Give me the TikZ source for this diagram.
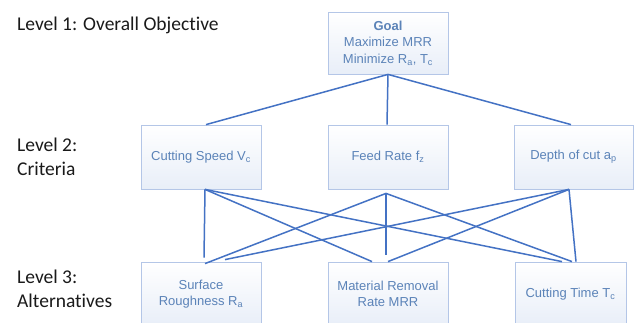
\documentclass[tikz,border=0pt]{standalone}
\usepackage{fontspec}
\setmainfont{Liberation Sans}
\newfontfamily\lblfont[Ligatures=NoCommon]{Carlito}
\definecolor{linkblue}{HTML}{4472C4}
\definecolor{boxedge}{HTML}{B4C6E7}
\definecolor{boxtext}{HTML}{5B83B8}
\definecolor{boxfill}{HTML}{E8EEF8}
\definecolor{lbltext}{HTML}{1A1A1A}
\tikzset{
  hbox/.style={draw=boxedge, line width=0.8pt, top color=white, bottom color=boxfill,
    text=boxtext, font=\fontsize{13}{16.5}\selectfont, align=center,
    minimum width=120pt, minimum height=64pt, inner sep=2pt},
  lvl/.style={anchor=west, text=lbltext, font=\lblfont\fontsize{19.5}{24}\selectfont, align=left, inner sep=0pt},
  link/.style={draw=linkblue, line width=1.5pt}
}
\begin{document}
\begin{tikzpicture}[x=1pt,y=-1pt]
\useasboundingbox (0,0) rectangle (638,323);
\fill[white] (0,0) rectangle (638,323);
\clip (0,0) rectangle (638,323);
% level labels
\node[lvl] (l1) at (17,25) {Level 1: Overall Objective};
\node[lvl] (l2) at (17,157) {Level 2:\\Criteria};
\node[lvl] (l3) at (17,289) {Level 3:\\Alternatives};
% boxes
\node[hbox, minimum height=62pt] (goal) at (388,43) {\textbf{Goal}\\Maximize MRR\\Minimize R\textsubscript{a}, T\textsubscript{c}};
\node[hbox] (c1) at (201,157) {Cutting Speed V\textsubscript{c}};
\node[hbox] (c2) at (388,157) {Feed Rate f\textsubscript{z}};
\node[hbox, minimum width=119pt] (c3) at (573.5,157) {Depth of cut a\textsubscript{p}};
\node[hbox] (a1) at (201,294) {Surface\\Roughness R\textsubscript{a}};
\node[hbox] (a2) at (388,294) {Material Removal\\Rate MRR};
\node[hbox, minimum width=111pt] (a3) at (570.5,294) {Cutting Time T\textsubscript{c}};
% goal to criteria
\draw[link] (goal.south) -- ([xshift=5pt]c1.north);
\draw[link] (goal.south) -- ([xshift=-1pt]c2.north);
\draw[link] (goal.south) -- ([xshift=-2.5pt]c3.north);
% criteria to alternatives
\draw[link] ([xshift=4pt]c1.south) -- ([xshift=3pt,yshift=4pt]a1.north);
\draw[link] ([xshift=4pt]c1.south) -- ([xshift=-16pt]a2.north);
\draw[link] ([xshift=4pt]c1.south) -- ([xshift=-8.5pt]a3.north);
\draw[link] ([xshift=-2pt,yshift=-4pt]c2.south) -- ([xshift=4pt,yshift=-2pt]a1.north);
\draw[link] ([xshift=-2pt,yshift=-4pt]c2.south) -- ([xshift=-2pt,yshift=7pt]a2.north);
\draw[link] ([xshift=-2pt,yshift=-4pt]c2.south) -- ([xshift=1.5pt]a3.north);
\draw[link] ([xshift=-4.5pt]c3.south) -- ([xshift=24pt,yshift=2pt]a1.north);
\draw[link] ([xshift=-4.5pt]c3.south) -- (a2.north);
\draw[link] ([xshift=-4.5pt]c3.south) -- ([xshift=5.5pt]a3.north);
\end{tikzpicture}
\end{document}
